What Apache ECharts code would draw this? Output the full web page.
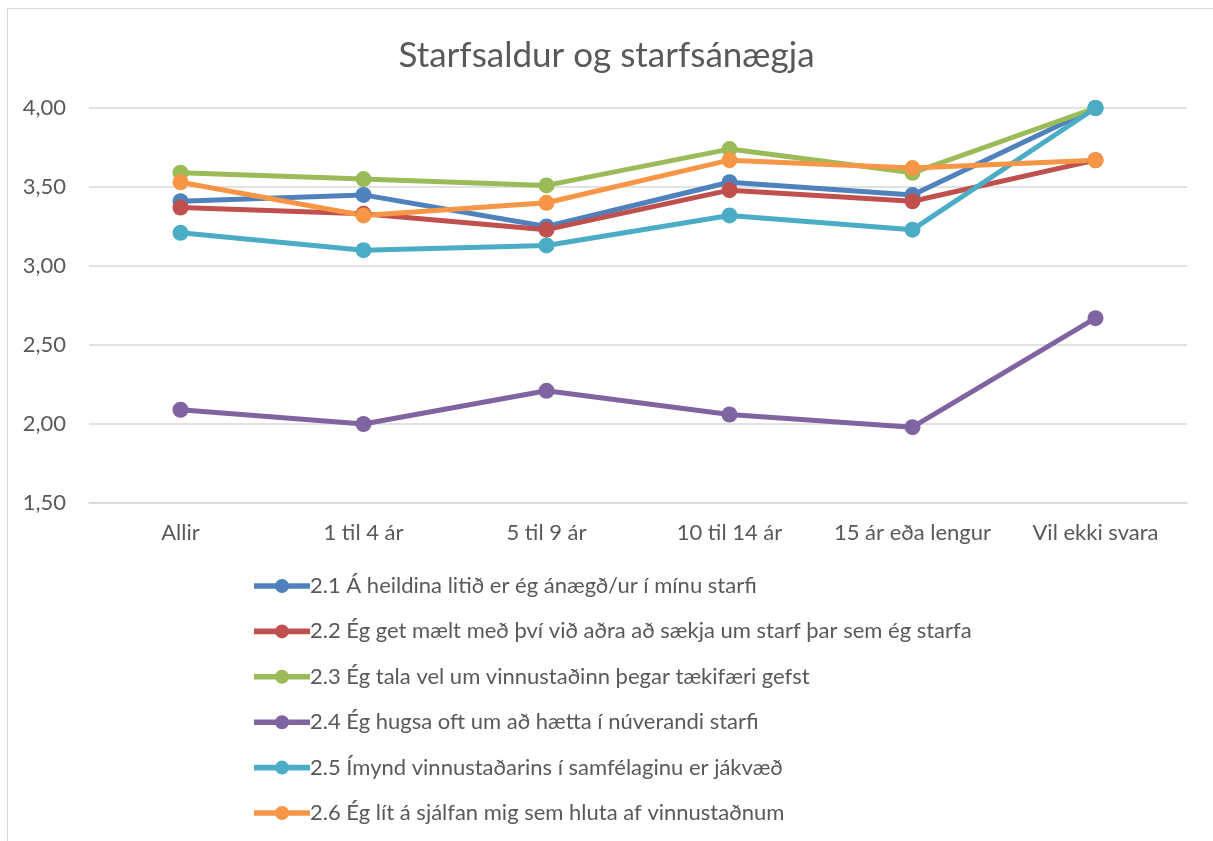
<!DOCTYPE html>
<html><head><meta charset="utf-8">
<script src="https://cdn.jsdelivr.net/npm/echarts@6/dist/echarts.min.js"></script>
<style>
html,body{margin:0;padding:0;background:#fff;}
#frame{position:absolute;left:7px;top:8px;width:1220px;height:850px;border:1px solid #d9d9d9;box-sizing:border-box;}
#c{position:absolute;left:0;top:0;width:1213px;height:841px;}
</style></head><body>
<div id="frame"></div>
<div id="c"></div>
<script>
const categories = ['Allir','1 til 4 ár','5 til 9 ár','10 til 14 ár','15 ár eða lengur','Vil ekki svara'];
const seriesNames = [
 '2.1 Á heildina litið er ég ánægð/ur í mínu starfi',
 '2.2 Ég get mælt með því við aðra að sækja um starf þar sem ég starfa',
 '2.3 Ég tala vel um vinnustaðinn þegar tækifæri gefst',
 '2.4 Ég hugsa oft um að hætta í núverandi starfi',
 '2.5 Ímynd vinnustaðarins í samfélaginu er jákvæð',
 '2.6 Ég lít á sjálfan mig sem hluta af vinnustaðnum'
];
const s21 = [3.41, 3.45, 3.25, 3.53, 3.45, 4.00];
const s22 = [3.37, 3.33, 3.23, 3.48, 3.41, 3.67];
const s23 = [3.59, 3.55, 3.51, 3.74, 3.59, 4.00];
const s24 = [2.09, 2.00, 2.21, 2.06, 1.98, 2.67];
const s25 = [3.21, 3.10, 3.13, 3.32, 3.23, 4.00];
const s26 = [3.53, 3.32, 3.40, 3.67, 3.62, 3.67];
const colors = ['#4f81bd','#c0504d','#9bbb59','#8064a2','#4bacc6','#f79646'];
const allData = [s21,s22,s23,s24,s25,s26];

const legendIcon = 'path://M0,4.2L21.8,4.2L21.8,9.8L0,9.8Z' +
  'M21,7A7,7 0 1 1 35,7A7,7 0 1 1 21,7Z' +
  'M34.2,4.2L56,4.2L56,9.8L34.2,9.8Z';

const chart = echarts.init(document.getElementById('c'), null, {renderer:'canvas'});
const font = 'Lato, "Open Sans", sans-serif';
chart.setOption({
  animation:false,
  color: colors,
  title:{text:'Starfsaldur og starfsánægja', left:'center', top:33,
    textStyle:{fontFamily:font, fontWeight:'normal', fontSize:35, color:'#595959'}},
  grid:{left:89, right:26, top:108, height:395},
  xAxis:{type:'category', data:categories, boundaryGap:true,
    axisLine:{show:true, lineStyle:{color:'#d9d9d9', width:1.5}},
    axisTick:{show:false},
    axisLabel:{interval:0, fontFamily:font, fontSize:22, color:'#595959', margin:19}},
  yAxis:{type:'value', min:1.5, max:4.0, interval:0.5,
    axisLine:{show:false}, axisTick:{show:false},
    splitLine:{lineStyle:{color:'#d9d9d9', width:1.5}},
    axisLabel:{fontFamily:font, fontSize:22, color:'#595959', margin:23,
      formatter:v=>v.toFixed(2).replace('.',',')}},
  legend:{orient:'vertical', left:249, top:570, itemGap:23.4,
    itemWidth:56, itemHeight:14, icon:legendIcon,
    textStyle:{fontFamily:font, fontSize:22, color:'#595959', padding:[0,0,0,-5]},
    data:seriesNames},
  series: seriesNames.map((n,i)=>({
    name:n, type:'line', data:allData[i],
    symbol:'circle', symbolSize:16,
    lineStyle:{width:5, color:colors[i]},
    itemStyle:{color:colors[i]}
  }))
});
</script></body></html>
